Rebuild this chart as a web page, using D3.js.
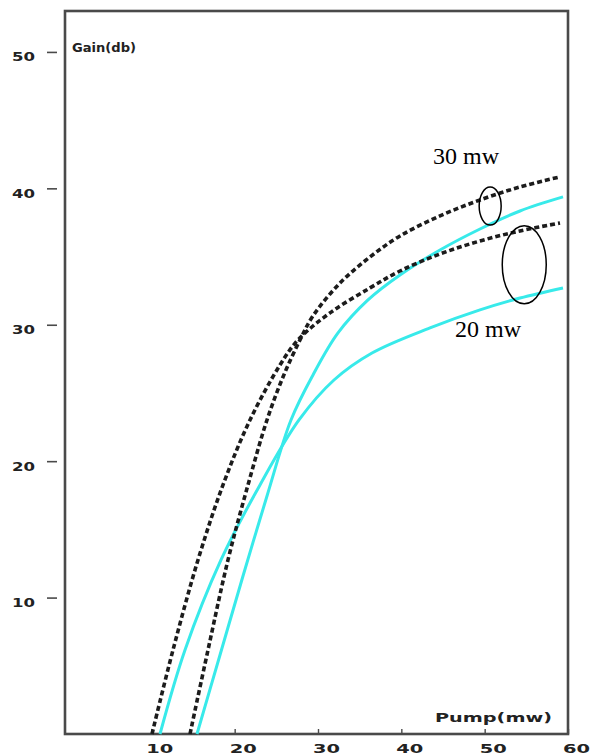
<!DOCTYPE html>
<html>
<head>
<meta charset="utf-8">
<script src="https://cdn.jsdelivr.net/npm/d3@7"></script>
<style>
  body { margin: 0; background: #fff; }
  #chart { width: 597px; height: 755px; }
</style>
</head>
<body>
<div id="chart"></div>
<script>
// tick values
const pumpTicks = [10, 20, 30, 40, 50, 60];
const gainTicks = [10, 20, 30, 40, 50];

// measured curves (black dotted)
const meas30Pump = [14.64, 16.8, 19.2, 21.6, 23.88, 25.8, 27.84, 29.4, 32.64, 36.24, 39.84, 44.64, 49.44, 54.24, 59.04];
const meas30Gain = [0, 6.16, 12.76, 18.26, 23.02, 26.17, 28.89, 30.65, 33.06, 34.97, 36.51, 37.98, 39.15, 40.1, 40.84];
const meas20Pump = [10.08, 12.6, 15.6, 18.6, 21.84, 25.44, 27.6, 31.44, 36.24, 39.84, 44.64, 49.44, 54.24, 59.04];
const meas20Gain = [0, 6.16, 12.76, 18.26, 23.02, 27.05, 28.89, 30.87, 32.7, 33.94, 35.19, 36.14, 36.88, 37.46];

// simulated curves (cyan)
const sim30Pump = [15.48, 18.24, 21.0, 23.88, 26.76, 29.4, 32.4, 36.0, 39.84, 44.64, 49.44, 54.24, 59.4];
const sim30Gain = [0, 5.79, 11.58, 17.45, 23.02, 26.32, 29.4, 31.82, 33.65, 35.48, 37.02, 38.34, 39.37];
const sim20Pump = [11.04, 14.04, 18.36, 23.04, 27.72, 31.92, 36.48, 43.44, 49.44, 54.24, 59.4];
const sim20Gain = [0, 6.16, 12.76, 18.26, 23.02, 25.95, 27.93, 29.77, 31.09, 31.96, 32.7];

// hand-drawn notes on the plot
const noteTexts = ["30 mw", "20 mw"];
const notePump = [43.8, 46.45];
const noteGain = [41.8, 29.1];
const ringPump = [50.66, 54.75];
const ringGain = [38.7, 34.4];

class GainChartD3 {
    margin = {top: 11, right: 29, bottom: 21, left: 65};
    frameColor = "#4a4a4a";
    labelFont = "'DejaVu Sans', sans-serif";

    constructor(el){
        this.el = el;
    }

    create(size){
        this.width = size.width - this.margin.left - this.margin.right;
        this.height = size.height - this.margin.top - this.margin.bottom;

        this.svgRoot = d3.select(this.el).append("svg")
            .attr("width", size.width)
            .attr("height", size.height)
            .style("background", "#fff");
        this.svg = this.svgRoot.append("g")
            .attr("transform", "translate(" + this.margin.left + "," + this.margin.top + ")");

        this.xScale = d3.scaleLinear().domain([-0.36, 60]).range([0, this.width]);
        this.yScale = d3.scaleLinear().domain([0, 53]).range([this.height, 0]);
    }

    styleLabel(sel, size, len){
        sel.attr("fill", "#222")
            .style("font-family", this.labelFont)
            .style("font-weight", "bold")
            .style("font-size", size + "px")
            .attr("textLength", len)
            .attr("lengthAdjust", "spacingAndGlyphs");
    }

    renderAxes(){
        // y axis sits a bit left of the frame, labels below their dash
        const yAxis = d3.axisLeft(this.yScale).tickValues(gainTicks).tickSize(10).tickPadding(12);
        const yG = this.svg.append("g")
            .attr("transform", "translate(-8,0)")
            .call(yAxis);
        yG.select(".domain").remove();
        yG.selectAll(".tick line").attr("stroke", this.frameColor).attr("stroke-width", 1.6);
        this.styleLabel(yG.selectAll(".tick text").attr("y", 5), 12, 23);

        const xAxis = d3.axisBottom(this.xScale).tickValues(pumpTicks).tickSize(-5).tickPadding(10);
        const xG = this.svg.append("g")
            .attr("transform", "translate(0," + this.height + ")")
            .call(xAxis);
        xG.select(".domain").remove();
        xG.selectAll(".tick line").attr("stroke", this.frameColor).attr("stroke-width", 1.4);
        this.styleLabel(xG.selectAll(".tick text").attr("x", 8), 12, 27);

        // frame of the plot
        this.svg.append("rect")
            .attr("x", 0).attr("y", 0)
            .attr("width", this.width).attr("height", this.height)
            .attr("fill", "none")
            .attr("stroke", this.frameColor)
            .attr("stroke-width", 2.6);

        this.styleLabel(this.svg.append("text")
            .attr("x", 7).attr("y", 41)
            .text("Gain(db)"), 13, 64);

        this.styleLabel(this.svg.append("text")
            .attr("x", this.width - 133).attr("y", this.height - 12)
            .text("Pump(mw)"), 13, 117);
    }

    renderCurve(pump, gain, style){
        const pts = pump.map((p, i) => [p, gain[i]]);
        const line = d3.line()
            .x(d => this.xScale(d[0]))
            .y(d => this.yScale(d[1]))
            .curve(d3.curveCatmullRom.alpha(0.5));
        this.svg.append("path")
            .datum(pts)
            .attr("d", line)
            .attr("fill", "none")
            .attr("stroke", style.color)
            .attr("stroke-width", style.width)
            .attr("stroke-dasharray", style.dash || null);
    }

    renderNotes(){
        const rx = [11, 22], ry = [19, 39];
        this.svg.selectAll(".ring")
            .data(ringPump)
            .join("ellipse")
            .attr("class", "ring")
            .attr("cx", (d) => this.xScale(d))
            .attr("cy", (d, i) => this.yScale(ringGain[i]))
            .attr("rx", (d, i) => rx[i])
            .attr("ry", (d, i) => ry[i])
            .attr("fill", "none")
            .attr("stroke", "#000")
            .attr("stroke-width", 1.5);

        this.svg.selectAll(".note")
            .data(noteTexts)
            .join("text")
            .attr("class", "note")
            .attr("x", (d, i) => this.xScale(notePump[i]))
            .attr("y", (d, i) => this.yScale(noteGain[i]))
            .text(d => d)
            .attr("fill", "#000")
            .style("font-family", "'Liberation Serif', serif")
            .style("font-size", "24px");
    }
}

const chart = new GainChartD3(document.getElementById("chart"));
chart.create({width: 597, height: 755});
chart.renderAxes();
chart.renderCurve(sim30Pump, sim30Gain, {color: "#38eaea", width: 3});
chart.renderCurve(sim20Pump, sim20Gain, {color: "#38eaea", width: 3});
chart.renderCurve(meas30Pump, meas30Gain, {color: "#1c1c1c", width: 3.6, dash: "5,3"});
chart.renderCurve(meas20Pump, meas20Gain, {color: "#1c1c1c", width: 3.6, dash: "5,3"});
chart.renderNotes();
</script>
</body>
</html>
